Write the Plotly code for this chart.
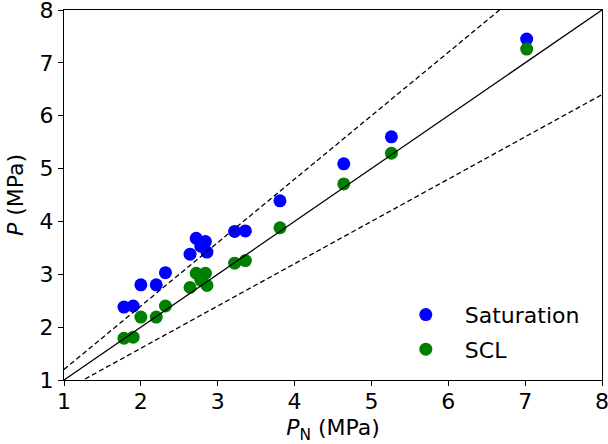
import plotly.graph_objects as go

# Data
pn = [1.78, 1.90, 2.00, 2.20, 2.32, 2.64, 2.72, 2.78, 2.84, 2.86, 3.22, 3.36, 3.81, 4.64, 5.26, 7.02]
p_sat = [2.38, 2.40, 2.80, 2.80, 3.03, 3.38, 3.68, 3.53, 3.62, 3.42, 3.81, 3.82, 4.39, 5.09, 5.60, 7.45]
p_scl = [1.79, 1.81, 2.19, 2.19, 2.40, 2.75, 3.02, 2.89, 3.02, 2.79, 3.21, 3.26, 3.88, 4.71, 5.29, 7.26]

line_x = [1, 8]
ratios = [1.0, 1.2, 0.8]
ratio_dash = ["solid", "5px,3px", "5px,3px"]

ticks = [1, 2, 3, 4, 5, 6, 7, 8]

FONT = "DejaVu Sans"
FS = 22

fig = go.Figure()
fig.add_trace(go.Scatter(x=pn, y=p_sat, mode="markers", name="Saturation",
                         legendgroup="a",
                         marker=dict(color="#0000ff", size=13, line=dict(width=0))))
fig.add_trace(go.Scatter(x=pn, y=p_scl, mode="markers", name="SCL",
                         legendgroup="b",
                         marker=dict(color="#008000", size=13, line=dict(width=0))))
for r, d in zip(ratios, ratio_dash):
    fig.add_trace(go.Scatter(x=line_x, y=[r * v for v in line_x], mode="lines",
                             showlegend=False, hoverinfo="skip",
                             line=dict(color="black", width=1.3, dash=d)))

axis_common = dict(range=[1, 8], tickvals=ticks, ticks="outside", ticklen=5,
                   tickwidth=1, tickcolor="black", showline=True, linecolor="black",
                   linewidth=1, mirror=True, showgrid=False, zeroline=False,
                   ticklabeloverflow="allow", automargin=False,
                   tickfont=dict(family=FONT, size=FS, color="black"))

fig.update_layout(
    width=608, height=444,
    margin=dict(l=64, r=6, t=10, b=64),
    paper_bgcolor="white", plot_bgcolor="white",
    font=dict(family=FONT, size=FS, color="black"),
    xaxis=dict(**axis_common, ticklabelstandoff=-3,
               title=dict(text="<i>P</i><sub>N</sub> (MPa)", standoff=8,
                          font=dict(family=FONT, size=FS))),
    yaxis=dict(**axis_common,
               title=dict(text="<i>P</i> (MPa)", standoff=9,
                          font=dict(family=FONT, size=FS))),
    legend=dict(x=0.6, y=0.233, xanchor="left", yanchor="top",
                bgcolor="rgba(0,0,0,0)", traceorder="grouped", tracegroupgap=3,
                itemwidth=68,
                font=dict(family=FONT, size=FS, color="black")),
    showlegend=True,
)

fig.write_html("out.html")
